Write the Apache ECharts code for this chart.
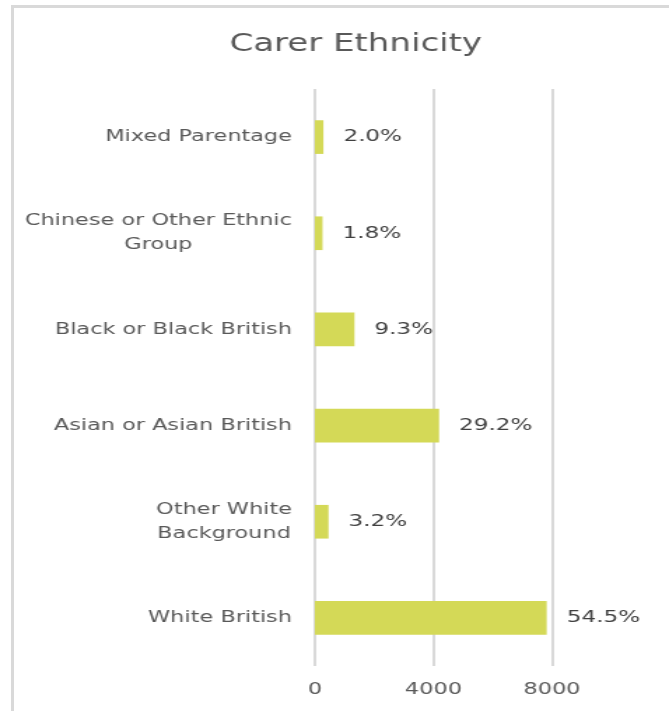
<!DOCTYPE html>
<html>
<head>
<meta charset="utf-8">
<script src="https://cdn.jsdelivr.net/npm/echarts@6/dist/echarts.min.js"></script>
<style>
html,body{margin:0;padding:0;background:#fff;overflow:hidden;width:669px;height:711px;}
#wrap{position:relative;width:669px;height:711px;overflow:hidden;}
#chart{position:absolute;left:0;top:0;width:478px;height:711px;transform:scaleX(1.3995);transform-origin:0 0;}
#frame{position:absolute;left:11px;top:5px;width:655px;height:703px;border-top:3px solid #d9d9d9;border-left:3px solid #d9d9d9;pointer-events:none;}
</style>
</head>
<body>
<div id="wrap"><div id="chart"></div><div id="frame"></div></div>
<script>
const categories = ["Mixed Parentage", "Chinese or Other Ethnic\nGroup", "Black or Black British", "Asian or Asian British", "Other White\nBackground", "White British"];
const carers = [287, 258, 1335, 4190, 459, 7821];
const percentLabels = ["2.0%", "1.8%", "9.3%", "29.2%", "3.2%", "54.5%"];
const xTicks = [0, 4000, 8000];

const FONT = "DejaVu Sans";
const chart = echarts.init(document.getElementById('chart'));
chart.setOption({
  animation: false,
  backgroundColor: '#ffffff',
  title: {
    text: 'Carer Ethnicity',
    left: 159,
    top: 28,
    textStyle: { fontFamily: FONT, fontSize: 24.3, fontWeight: 'normal', color: '#595959' }
  },
  grid: { left: 225, right: 83.6, top: 89, bottom: 45, containLabel: false },
  xAxis: {
    type: 'value',
    min: 0, max: 8000, interval: 4000,
    axisLine: { show: false },
    axisTick: { show: false },
    axisLabel: { fontFamily: FONT, fontSize: 16, color: '#595959', margin: 16,
      formatter: v => xTicks.includes(v) ? String(v) : '' },
    splitLine: { show: true, lineStyle: { color: '#d9d9d9', width: 2 } }
  },
  yAxis: {
    type: 'category',
    data: categories,
    inverse: true,
    axisLine: { show: false },
    axisTick: { show: false },
    axisLabel: {
      margin: 16.4,
      align: 'right',
      formatter: v => v.split('\n').map(l => '{c|' + l + '}').join('\n'),
      rich: {
        c: { fontFamily: FONT, fontSize: 16, color: '#595959', align: 'center', lineHeight: 24 }
      }
    }
  },
  series: [{
    type: 'bar',
    data: carers,
    barWidth: '35%',
    itemStyle: { color: '#d4d957' },
    label: {
      show: true,
      position: 'right',
      distance: 14.3,
      fontFamily: FONT,
      fontSize: 16.5,
      color: '#404040',
      formatter: p => percentLabels[p.dataIndex]
    }
  }]
});
</script>
</body>
</html>
